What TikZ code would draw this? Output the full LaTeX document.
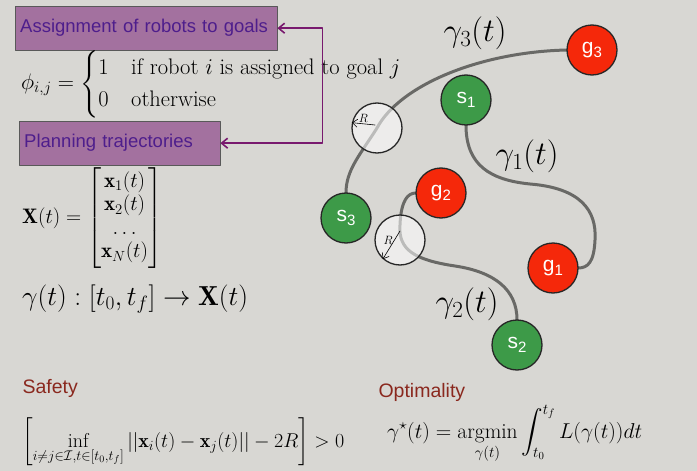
\RequirePackage{fix-cm}
\documentclass[tikz,border=0pt]{standalone}
\usepackage{amsmath,amssymb}
\usepackage{fontspec}
\newfontfamily\sansfont{Liberation Sans}
\usetikzlibrary{arrows.meta}

\definecolor{bggray}{RGB}{216,215,211}
\definecolor{boxfill}{RGB}{163,113,159}
\definecolor{boxtext}{RGB}{78,30,140}
\definecolor{linkpurple}{RGB}{120,25,110}
\definecolor{goalred}{RGB}{245,40,10}
\definecolor{startgreen}{RGB}{61,154,72}
\definecolor{titlered}{RGB}{138,40,30}
\definecolor{trajgray}{RGB}{105,105,102}

\newcommand{\fsz}[1]{\fontsize{#1}{1.2\dimexpr#1pt\relax}\selectfont}
\newcommand{\robotlbl}[2]{#1\raisebox{-0.35ex}{\fontsize{15}{15}\selectfont #2}}

\tikzset{
  goalbox/.style={rectangle, fill=boxfill, draw=gray!70!black, text=boxtext,
    font=\sansfont\fsz{18.5}, minimum height=44pt, inner xsep=5pt, align=left,
    anchor=north west},
  traj/.style={draw=trajgray, line width=3pt},
  robotspot/.style={circle, minimum size=50pt, inner sep=0pt},
  safezone/.style={circle, draw=black!85, line width=1.3pt, minimum size=50pt,
    fill=white, fill opacity=0.55, inner sep=0pt},
  heading/.style={text=titlered, font=\sansfont\fsz{19.5}, anchor=west},
  link/.style={draw=linkpurple, line width=1.6pt, {Straight Barb[length=6pt,width=10pt]}-{Straight Barb[length=6pt,width=10pt]}}
}

\begin{document}
\begin{tikzpicture}[x=1pt, y=-1pt, line join=round, line cap=round, >={Straight Barb[length=5pt,width=8pt]}]

  % background (fixes the page size)
  \fill[bggray] (0,0) rectangle (697,471);

  % start and goal positions
  \node[robotspot] (g3) at (592,50) {};
  \node[robotspot] (s1) at (466,100) {};
  \node[robotspot] (s3) at (346,218) {};
  \node[robotspot] (g2) at (441,193) {};
  \node[robotspot] (g1) at (553,268) {};
  \node[robotspot] (s2) at (517,345) {};

  % trajectories
  \draw[traj] (g3.west) .. controls (480,52) and (400,85) .. (377,128)
    .. controls (360,155) and (346,170) .. (s3.north);
  \draw[traj] (s1.south) .. controls (466,165) and (490,180) .. (530,184)
    .. controls (580,188) and (597,210) .. (595,240)
    .. controls (594,262) and (588,268) .. (g1.east);
  \draw[traj] (s2.north) .. controls (517,290) and (495,272) .. (455,266)
    .. controls (415,260) and (398,250) .. (400,225)
    .. controls (401,200) and (408,193) .. (g2.west);

  % robots and goals on top of the paths
  \foreach \nm/\col/\ch/\k in {g3/goalred/g/3, s1/startgreen/s/1, s3/startgreen/s/3,
      g2/goalred/g/2, g1/goalred/g/1, s2/startgreen/s/2} {
    \fill[\col] (\nm) circle (25pt);
    \draw[black!85, line width=1.3pt] (\nm) circle (25pt);
    \node[text=white, font=\sansfont\fsz{21}] at (\nm) {\robotlbl{\ch}{\k}};
  }

  % safety radius
  \node[safezone] (r1) at (377,128) {};
  \node[safezone] (r2) at (400,240) {};
  \draw[->, line width=0.6pt] ([xshift=-2pt,yshift=3pt]r1.center) -- (r1.168)
    node[midway, above, font=\fsz{12}, inner sep=1pt] {$R$};
  \draw[->, line width=0.6pt] ([yshift=9pt]r2.center) -- (r2.228)
    node[pos=0.35, left, font=\fsz{12}, inner sep=1pt] {$R$};

  % trajectory labels
  \node[font=\fsz{33}] (lg3) at (475,33) {$\gamma_3(t)$};
  \node[font=\fsz{33}] (lg1) at (527,156) {$\gamma_1(t)$};
  \node[font=\fsz{33}] (lg2) at (467,304) {$\gamma_2(t)$};

  % left column
  \node[goalbox, text width=252pt] (assign) at (15,6) {Assignment of robots to goals};
  \node[font=\fsz{22.5}, anchor=west, inner sep=0pt] (phi) at (21,84) {$\phi_{i,j} = \begin{cases} 1 & \text{if robot $i$ is assigned to goal $j$}\\ 0 & \text{otherwise}\end{cases}$};
  \node[goalbox, text width=191pt] (plan) at (19,121) {Planning trajectories};
  \node[font=\fontsize{21}{23.5}\selectfont, anchor=west, inner sep=0pt] (traj) at (22,218) {$\mathbf{X}(t) = \begin{bmatrix} \mathbf{x}_1(t)\\ \mathbf{x}_2(t)\\ \dots\\ \mathbf{x}_N(t)\end{bmatrix}$};
  \node[font=\fsz{27.5}, anchor=west, inner sep=0pt] (map) at (22,299) {$\gamma(t) : [t_0, t_f] \rightarrow \mathbf{X}(t)$};

  % assignment <-> planning
  \draw[link] (assign.east) -- ++(45,0) |- (plan.east);

  % bottom row
  \node[heading] (safety) at (19,388) {Safety};
  \node[heading] (optim) at (375,392) {Optimality};
  \node[font=\fsz{20}, anchor=base west, inner sep=0pt] (safeq) at (22,447) {$\displaystyle\left[\inf_{i\neq j\in\mathcal{I},t\in[t_0,t_f]} ||\mathbf{x}_i(t)-\mathbf{x}_j(t)||-2R\right]>0$};
  \node[font=\fsz{21.5}, anchor=base west, inner sep=0pt] (opteq) at (387,438) {$\displaystyle\gamma^\star(t) = \operatorname*{argmin}_{\gamma(t)} \int_{t_0}^{t_f} L(\gamma(t))dt$};

\end{tikzpicture}
\end{document}
